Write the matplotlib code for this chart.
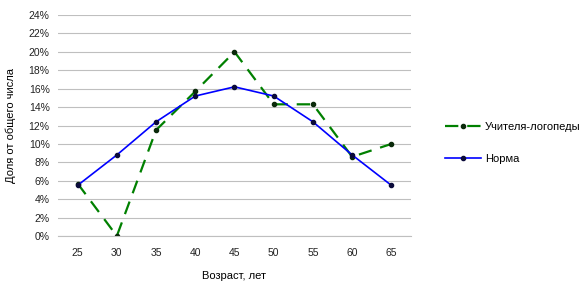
import matplotlib.pyplot as plt
from matplotlib.ticker import PercentFormatter

plt.rcParams['font.family'] = ['Liberation Sans', 'DejaVu Sans']

ages = ['25', '30', '35', '40', '45', '50', '55', '60', '65']
teachers = [5.7, 0.0, 11.5, 15.7, 20.0, 14.3, 14.3, 8.6, 10.0]
norm = [5.5, 8.8, 12.4, 15.2, 16.2, 15.2, 12.4, 8.8, 5.5]

fig = plt.figure(figsize=(5.88, 2.88), dpi=100)
ax = fig.add_axes([58 / 588, 1 - 236 / 288, (411 - 58) / 588, (236 - 15) / 288])

x = range(len(ages))
ax.plot(x, teachers, color='#008000', linestyle=(0, (6, 4)), linewidth=1.6,
        marker='o', markersize=3, markerfacecolor='#0a2a0a', markeredgecolor='#0a2a0a',
        label='Учителя-логопеды')
ax.plot(x, norm, color='#0000ff', linestyle='-', linewidth=1.2,
        marker='o', markersize=3, markerfacecolor='#0a0a3a', markeredgecolor='#0a0a3a',
        label='Норма')

ax.set_xlim(-0.5, len(ages) - 0.5)
ax.set_ylim(0, 24)
ax.set_yticks(range(0, 25, 2))
ax.yaxis.set_major_formatter(PercentFormatter(decimals=0))
ax.set_xticks(list(x))
ax.set_xticklabels(ages)
ax.grid(axis='y', color='#bfbfbf', linewidth=0.8)
ax.set_axisbelow(True)
for s in ['top', 'right', 'left']:
    ax.spines[s].set_visible(False)
ax.spines['bottom'].set_color('#bfbfbf')
ax.tick_params(length=0, labelsize=7.5, colors='#222222')
ax.tick_params(axis='x', pad=9)
ax.tick_params(axis='y', pad=6)

ax.set_xlabel('Возраст, лет', fontsize=8, labelpad=9)
ax.set_ylabel('Доля от общего числа', fontsize=8, labelpad=9)

fig.legend(loc='center left', bbox_to_anchor=(435 / 588, 1 - 143 / 288), frameon=False,
           fontsize=8, labelspacing=2.0, handlelength=3.2, handletextpad=0.4)

fig.savefig('out.png', dpi=100)
